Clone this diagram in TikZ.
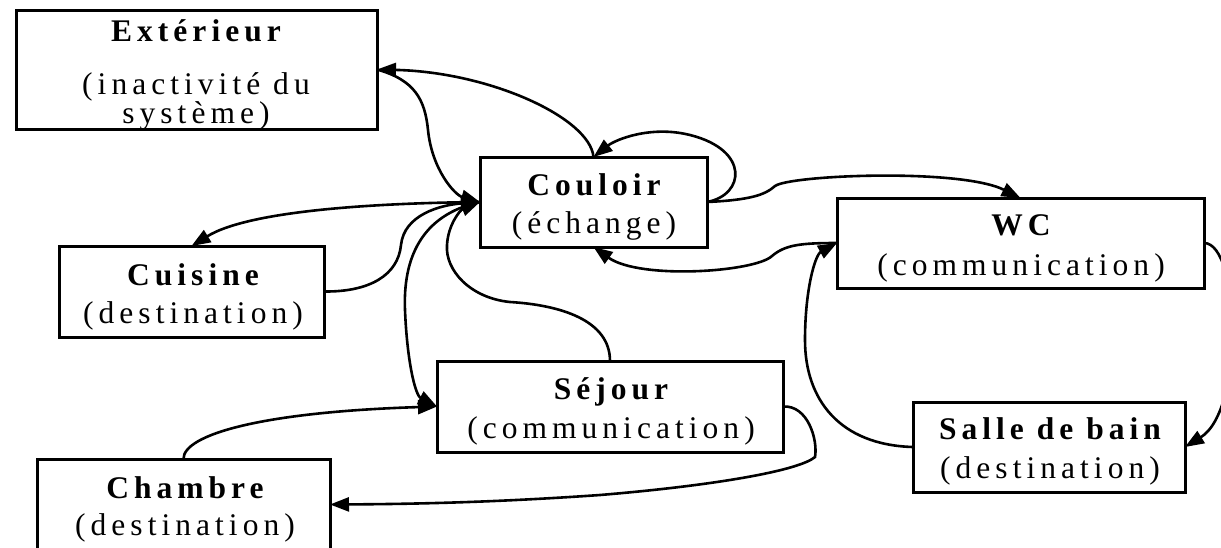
\documentclass[tikz,border=0pt]{standalone}
\usepackage{fontspec}
\setmainfont{Liberation Serif}
\newfontfamily\spfont[LetterSpace=16]{Liberation Serif}
\usetikzlibrary{arrows.meta}
\begin{document}
\begin{tikzpicture}[x=1pt,y=-1pt,
  box/.style={draw, line width=3pt, rectangle, inner sep=0pt, outer sep=0pt},
  ttl/.style={anchor=base, inner sep=0pt, font=\spfont\bfseries\fontsize{31.5}{36}\selectfont},
  sub/.style={anchor=base, inner sep=0pt, font=\spfont\fontsize{31.5}{36}\selectfont},
  conn/.style={line width=2.6pt, -{Triangle[length=19pt,width=14pt]}}]
\useasboundingbox (0,0) rectangle (1221,547);
\clip (0,0) rectangle (1221,547);
\fill[white] (0,0) rectangle (1221,547);

% boxes
\node[box, minimum width=361pt, minimum height=119pt] (ext) at (196.5,69.5) {};
\node[box, minimum width=227pt, minimum height=90pt] (cou) at (593.5,202) {};
\node[box, minimum width=367pt, minimum height=90pt] (wc) at (1020.5,243) {};
\node[box, minimum width=272pt, minimum height=90pt] (sdb) at (1049,447) {};
\node[box, minimum width=265pt, minimum height=91pt] (cui) at (191.5,291.5) {};
\node[box, minimum width=293pt, minimum height=91pt] (cha) at (183.5,504.5) {};
\node[box, minimum width=346pt, minimum height=91pt] (sej) at (610,406.5) {};

% texts
\node[ttl] (extt) at (196,41) {Extérieur};
\node[sub] (exts1) at (196,94) {(inactivité du};
\node[sub] (exts2) at (196,123) {système)};
\node[ttl] (cout) at (594,195) {Couloir};
\node[sub] (cous) at (594,233) {(échange)};
\node[ttl] (wct) at (1021,235) {WC};
\node[sub] (wcs) at (1021,275) {(communication)};
\node[ttl] (sdbt) at (1050,439) {Salle de bain};
\node[sub] (sdbs) at (1050,478) {(destination)};
\node[ttl] (cuit) at (193,285) {Cuisine};
\node[sub] (cuis) at (193,323) {(destination)};
\node[ttl] (chat) at (185,498) {Chambre};
\node[sub] (chas) at (185,535) {(destination)};
\node[ttl] (sejt) at (611,399) {Séjour};
\node[sub] (sejs) at (611,438) {(communication)};

% connectors
\draw[conn] (cou.north) .. controls (590,118) and (490,72) .. (ext.east);
\draw[conn] (ext.east) .. controls (415,80) and (425,100) .. (428,130)
   .. controls (432,170) and (455,195) .. (cou.west);
\draw[conn] (cou.east) .. controls (745,195) and (750,150) .. (690,135)
   .. controls (650,125) and (615,140) .. (cou.north);
\draw[conn] (cou.east) .. controls (750,200) and (765,195) .. (775,186)
   .. controls (790,175) and (960,168) .. (wc.north);
\draw[conn] (wc.west) .. controls (800,243) and (785,245) .. (772,256)
   .. controls (755,272) and (640,280) .. (cou.south);
\draw[conn] (sdb.west) .. controls (840,445) and (805,400) .. (805,340)
   .. controls (805,290) and (815,255) .. (wc.west);
\draw[conn] (wc.east) .. controls (1240,243) and (1245,410) .. (sdb.east);
\draw[conn] (cou.west) .. controls (380,203) and (250,210) .. (cui.north);
\draw[conn] (cui.east) .. controls (370,292) and (398,275) .. (401,245)
   .. controls (404,215) and (440,205) .. (cou.west);
\draw[conn] (cou.west) .. controls (420,215) and (403,260) .. (405,310)
   .. controls (407,360) and (415,395) .. (sej.west);
\draw[conn] (cha.north) .. controls (183,435) and (260,412) .. (sej.west);
\draw[conn] (sej.north) .. controls (610,320) and (560,305) .. (510,302)
   .. controls (470,298) and (445,270) .. (447,245)
   .. controls (448,225) and (460,210) .. (cou.west);
\draw[conn] (sej.east) .. controls (808,405) and (818,440) .. (815,457)
   .. controls (800,470) and (720,485) .. (600,495)
   .. controls (500,502) and (420,504) .. (cha.east);
\end{tikzpicture}
\end{document}
